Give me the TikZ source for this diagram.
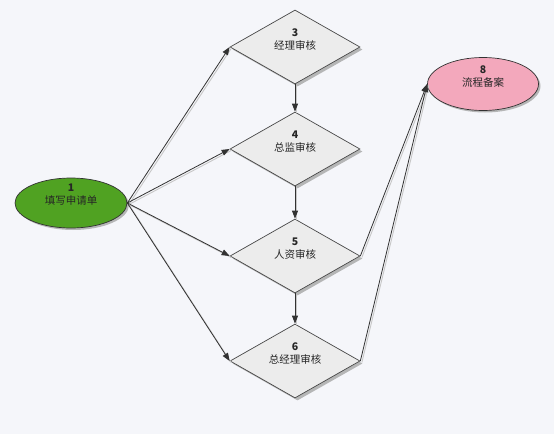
\documentclass[tikz,border=0pt]{standalone}
\usepackage{fontspec}
\setmainfont{Noto Sans CJK SC}
\usetikzlibrary{shapes.geometric,arrows.meta,shadows}
\definecolor{bgc}{RGB}{245,246,250}
\definecolor{dfill}{RGB}{236,236,236}
\definecolor{gfill}{RGB}{80,162,34}
\definecolor{pfill}{RGB}{243,168,188}
\definecolor{lcol}{RGB}{50,50,50}
\tikzset{
  dbox/.style={diamond, draw=lcol!90, line width=0.7pt, fill=dfill, inner sep=0pt,
    minimum width=130pt, minimum height=74pt,
    drop shadow={shadow xshift=2.5pt, shadow yshift=-2.5pt, fill=black!35, opacity=0.8}},
  ebox/.style={ellipse, draw=lcol, line width=0.7pt, inner sep=0pt,
    drop shadow={shadow xshift=2pt, shadow yshift=-2pt, fill=black!35, opacity=0.8}},
  lbl/.style={align=center, font=\fontsize{10.5pt}{13pt}\selectfont, text=black!85, inner sep=0pt},
  conn/.style={draw=lcol, line width=0.8pt, -{Triangle[length=8pt,width=6pt]},
    preaction={draw=black!22, line width=0.9pt, -, transform canvas={xshift=1.5pt,yshift=-1.5pt}}},
}
\begin{document}
\begin{tikzpicture}[x=1pt,y=-1pt]
\fill[bgc] (0,0) rectangle (554,434);
\useasboundingbox (0,0) rectangle (554,434);
\node[ebox, fill=gfill, minimum width=112pt, minimum height=50pt] (e1) at (71,203) {};
\node[ebox, fill=pfill, minimum width=111pt, minimum height=53pt] (e8) at (483,84) {};
\node[dbox] (d3) at (295,47) {};
\node[dbox] (d4) at (295,149) {};
\node[dbox] (d5) at (295,256) {};
\node[dbox] (d6) at (295,361) {};
\node[lbl] (t1) at (71,195) {\textbf{1}\\填写申请单};
\node[lbl] (t8) at (483,77) {\textbf{8}\\流程备案};
\node[lbl] (t3) at (295,40) {\textbf{3}\\经理审核};
\node[lbl] (t4) at (295,142) {\textbf{4}\\总监审核};
\node[lbl] (t5) at (295,249) {\textbf{5}\\人资审核};
\node[lbl] (t6) at (295,354) {\textbf{6}\\总经理审核};
\draw[conn] (e1.east) -- (d3.west);
\draw[conn] (e1.east) -- (d4.west);
\draw[conn] (e1.east) -- (d5.west);
\draw[conn] (e1.east) -- (d6.west);
\draw[conn] (d3.south) -- (d4.north);
\draw[conn] (d4.south) -- (d5.north);
\draw[conn] (d5.south) -- (d6.north);
\draw[conn] (d5.east) -- (e8.west);
\draw[conn] (d6.east) -- (e8.west);
\end{tikzpicture}
\end{document}
